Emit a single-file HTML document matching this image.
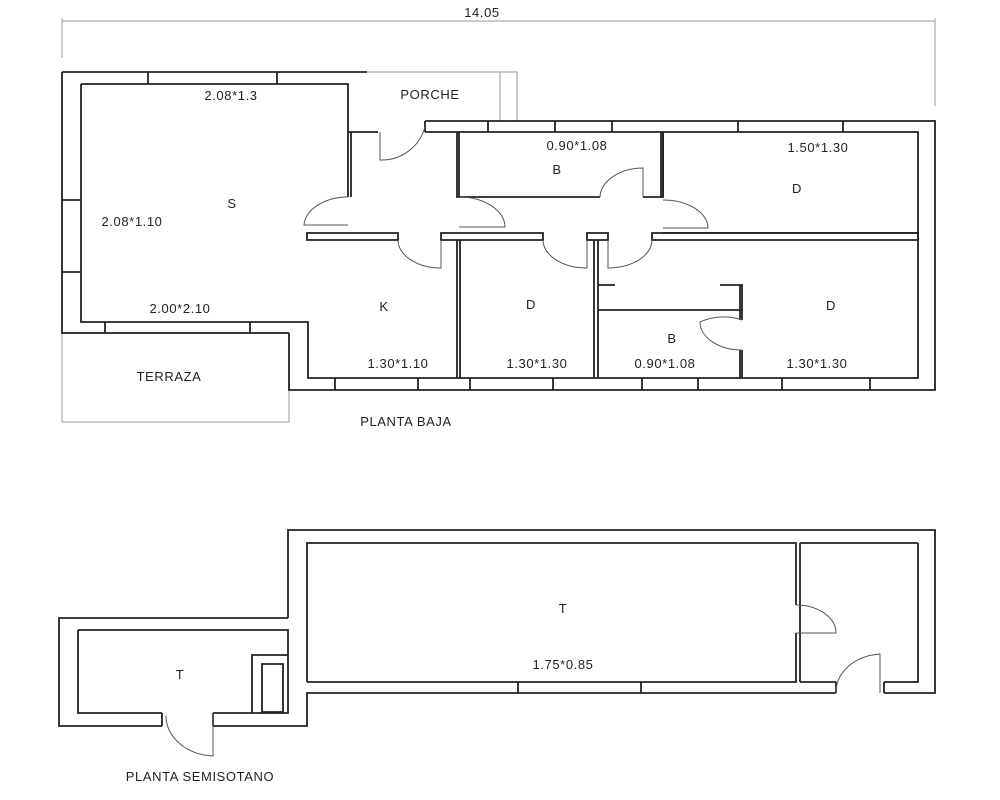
<!DOCTYPE html>
<html><head><meta charset="utf-8"><style>
html,body{margin:0;padding:0;background:#fff}
svg{display:block}
text{font-family:"Liberation Sans",sans-serif;font-size:13px;fill:#222;text-anchor:middle;letter-spacing:0.6px}
</style></head><body>
<svg width="1000" height="800" viewBox="0 0 1000 800" xmlns="http://www.w3.org/2000/svg">
<g fill="none" stroke="#aaa" stroke-width="1.2">
<path d="M62,21 H935 M62,18 V58 M935,18 V106"/>
<rect x="62" y="333" width="227" height="89"/>
<path d="M367,72 H517 V121 M500,72 V121"/>
</g>
<text x="482" y="17">14.05</text>
<g fill="none" stroke="#222" stroke-width="1.8">
<path d="M62,72 H367 M62,72 V333 H289 M289,333 V390 H935 V121 H425"/>
<path d="M148,72 V84 M277,72 V84 M62,200 H81 M62,272 H81 M105,322 V333 M250,322 V333"/>
<path d="M81,84 H348 V132 H378 M81,84 V322 H308 V378 H918 V132 H425"/>
<path d="M351,132 V197 M348,197 V132"/>
<path d="M425,121 V132 M488,121 V132 M555,121 V132 M612,121 V132 M738,121 V132 M843,121 V132"/>
<path d="M335,378 V390 M418,378 V390 M470,378 V390 M553,378 V390 M642,378 V390 M698,378 V390 M782,378 V390 M870,378 V390"/>
<path d="M307,233 H398 V240 H307 Z M441,233 H543 V240 H441 Z M587,233 H608 V240 H587 Z M652,233 H918 V240 H652 Z"/>
<path d="M457,132 V197 H600 M643,197 H663 V132 M459,132 V197 M661,132 V197"/>
<path d="M663,197 V132 M663,233 H918"/>
<path d="M457,240 V378 M460,240 V378 M594,240 V378 M598,240 V378"/>
<path d="M598,285 H615 M720,285 H742 V320 M742,350 V378 M598,310 H742 M740,285 V320 M740,350 V378"/>
</g>
<g fill="none" stroke="#555" stroke-width="1">
<path d="M380,132 V160 A45,45 0 0 0 425,127"/>
<path d="M348,197 A44,30 0 0 0 304,225 H348"/>
<path d="M459,197 A46,30 0 0 1 505,227 H459"/>
<path d="M398,240 A43,28 0 0 0 441,268 V240"/>
<path d="M600,197 A43,30 0 0 1 643,168 V197"/>
<path d="M663,200 A45,28 0 0 1 708,228 H663"/>
<path d="M543,240 A44,28 0 0 0 587,268 V240"/>
<path d="M608,240 V268 A44,28 0 0 0 652,240"/>
<path d="M742,320 A42,30 0 0 0 700,322 M742,350 A42,28 0 0 1 700,322"/>
</g>
<text x="231" y="100">2.08*1.3</text>
<text x="430" y="99">PORCHE</text>
<text x="232" y="208">S</text>
<text x="132" y="226">2.08*1.10</text>
<text x="180" y="313">2.00*2.10</text>
<text x="384" y="311">K</text>
<text x="398" y="368">1.30*1.10</text>
<text x="577" y="150">0.90*1.08</text>
<text x="557" y="174">B</text>
<text x="818" y="152">1.50*1.30</text>
<text x="797" y="193">D</text>
<text x="531" y="309">D</text>
<text x="537" y="368">1.30*1.30</text>
<text x="672" y="343">B</text>
<text x="665" y="368">0.90*1.08</text>
<text x="831" y="310">D</text>
<text x="817" y="368">1.30*1.30</text>
<text x="169" y="381">TERRAZA</text>
<text x="406" y="426">PLANTA  BAJA</text>
<g fill="none" stroke="#222" stroke-width="1.8">
<path d="M288,618 V530 H935 V693 H884 M836,693 H307 V726 H213 M162,726 H59 V618 H288"/>
<path d="M307,682 H796 V633 M796,605 V543 H307 V682 M800,543 V682 M918,543 V682 H884 M836,682 H800 M918,543 H800"/>
<path d="M78,630 H288 V713 H213 M162,713 H78 V630"/>
<path d="M252,713 V655 H288 M262,664 H283 V712 H262 Z"/>
<path d="M518,682 V693 M641,682 V693 M836,682 V693 M884,682 V693 M162,713 V726 M213,713 V726"/>
</g>
<g fill="none" stroke="#555" stroke-width="1">
<path d="M796,605 A40,28 0 0 1 836,633 H796"/>
<path d="M836,693 A48,38 0 0 1 880,654 V693"/>
<path d="M213,713 V756 A50,40 0 0 1 166,716"/>
</g>
<text x="563" y="613">T</text>
<text x="563" y="669">1.75*0.85</text>
<text x="180" y="679">T</text>
<text x="200" y="781">PLANTA  SEMISOTANO</text>
</svg>
</body></html>
